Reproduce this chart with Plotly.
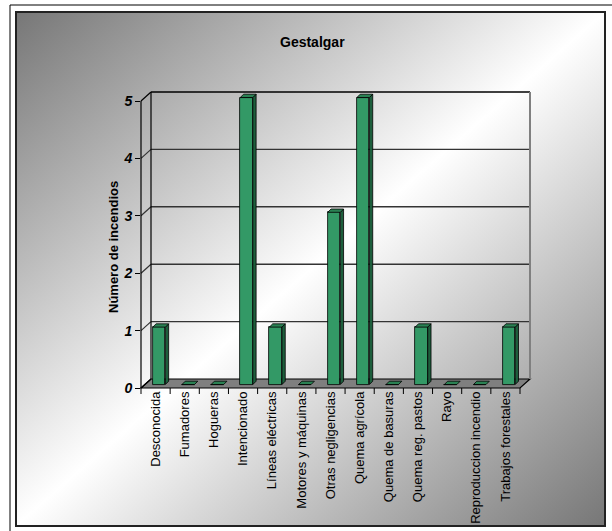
import base64
import plotly.graph_objects as go

# ---------------- data ----------------
categories = ["Desconocida", "Fumadores", "Hogueras", "Intencionado", "Líneas eléctricas",
              "Motores y máquinas", "Otras negligencias", "Quema agrícola", "Quema de basuras",
              "Quema reg. pastos", "Rayo", "Reproduccion incendio", "Trabajos forestales"]
incendios = [1, 0, 0, 5, 1, 0, 3, 5, 0, 1, 0, 0, 1]
y_ticks = [0, 1, 2, 3, 4, 5]
title_text = "Gestalgar"
y_title = "Número de incendios"

# ---------------- geometry (pixels) ----------------
WIDTH, HEIGHT = 612, 531
L, R, T, B = 141, 530, 92, 388          # subplot box (includes back wall)
PXX = 379 / 13                          # px per category
PXY = 57.4                              # px per unit
DX, DY = 10, 9                          # wall depth offset
BSX, BSY = 3.5, 3.5                     # bar front-face shift
BDX, BDY = 3.3, 3.3                     # bar depth
W, H = R - L, B - T

n = len(categories)
xr = [-0.5, -0.5 + W / PXX]
yr = [0, H / PXY]


def px(p):
    return (p - L) / W


def py(p):
    return (B - p) / H


def fx(u):
    return L + (u + 0.5) * PXX


def fy(v):
    return B - v * PXY


# ---------------- background gradient ----------------
svg = ("<svg xmlns='http://www.w3.org/2000/svg' width='100' height='100' viewBox='0 0 100 100' "
       "preserveAspectRatio='none'><defs><linearGradient id='g' x1='0' y1='0' x2='1' y2='1'>"
       "<stop offset='0' stop-color='#777777'/><stop offset='0.5' stop-color='#ffffff'/>"
       "<stop offset='1' stop-color='#777777'/></linearGradient></defs>"
       "<rect width='100' height='100' fill='url(#g)'/></svg>")
svg_uri = "data:image/svg+xml;base64," + base64.b64encode(svg.encode()).decode()

fig = go.Figure()

# ---------------- bars (front faces), shifted into the depth of the floor ----------------
bw = 0.43
sxu, syu = BSX / PXX, BSY / PXY
fig.add_trace(go.Bar(x=list(range(n)), y=incendios, width=bw, offset=-bw / 2 + sxu, base=syu,
                     marker=dict(color="#339966", line=dict(color="#000000", width=0.8)),
                     showlegend=False, hoverinfo="skip"))

# side and top faces computed from values
dxu, dyu = BDX / PXX, BDY / PXY
side_x, side_y, top_x, top_y = [], [], [], []
for i, v in enumerate(incendios):
    xl, xrgt = i - bw / 2 + sxu, i + bw / 2 + sxu
    y0, y1 = syu, v + syu
    if v > 0:
        side_x += [xrgt, xrgt, xrgt + dxu, xrgt + dxu, xrgt, None]
        side_y += [y0, y1, y1 + dyu, y0 + dyu, y0, None]
    top_x += [xl, xrgt, xrgt + dxu, xl + dxu, xl, None]
    top_y += [y1, y1, y1 + dyu, y1 + dyu, y1, None]

fig.add_trace(go.Scatter(x=side_x, y=side_y, mode="lines", fill="toself",
                         fillcolor="#1d5e3c", line=dict(color="#000000", width=0.8),
                         showlegend=False, hoverinfo="skip"))
fig.add_trace(go.Scatter(x=top_x, y=top_y, mode="lines", fill="toself",
                         fillcolor="#2a8153", line=dict(color="#000000", width=0.8),
                         showlegend=False, hoverinfo="skip"))

# ---------------- decoration shapes ----------------
shapes = []


def line(x0, y0, x1, y1, color="#000000", width=1, layer="below"):
    shapes.append(dict(type="line", xref="paper", yref="paper", x0=px(x0), y0=py(y0),
                       x1=px(x1), y1=py(y1), line=dict(color=color, width=width), layer=layer))


# floor
x_end = fx(n - 0.5)
shapes.append(dict(type="path", xref="paper", yref="paper", layer="below",
                   path=f"M {px(L)},{py(B)} L {px(x_end)},{py(B)} L {px(x_end + DX)},{py(B - DY)} "
                        f"L {px(L + DX)},{py(B - DY)} Z",
                   fillcolor="#7f7f7f", line=dict(color="#000000", width=1.2)))
# gridlines on back and side walls
for v in y_ticks[1:]:
    col = "#000000" if v == y_ticks[-1] else "#333333"
    line(L, fy(v), L + DX, fy(v) - DY, col, 1.2)
    line(L + DX, fy(v) - DY, R, fy(v) - DY, col, 1.4)
line(L, fy(0), L + DX, fy(0) - DY, "#000000", 1.2)
# wall edges
line(L + DX, fy(y_ticks[-1]) - DY, L + DX, B - DY, "#000000", 1.2)
line(R, fy(y_ticks[-1]) - DY, R, B - DY, "#808080", 2)
line(L, fy(y_ticks[-1]), L, B, "#000000", 1.2)
# category boundary ticks on the front axis
for i in range(n + 1):
    line(fx(i - 0.5), B, fx(i - 0.5), B + 6, "#000000", 1, "above")
# frames
shapes.append(dict(type="rect", xref="paper", yref="paper", layer="above",
                   x0=px(16), y0=py(12), x1=px(605), y1=py(526),
                   line=dict(color="#222222", width=2)))
line(10, 5, 612, 5, "#000000", 1, "above")
line(10, 5, 10, 531, "#000000", 1, "above")

fig.update_layout(
    width=WIDTH, height=HEIGHT,
    margin=dict(l=L, r=WIDTH - R, t=T, b=HEIGHT - B, pad=0, autoexpand=False),
    paper_bgcolor="#ffffff", plot_bgcolor="rgba(0,0,0,0)",
    font=dict(family="Liberation Sans, Arial, sans-serif", color="#000000"),
    showlegend=False, bargap=0,
    images=[dict(source=svg_uri, xref="paper", yref="paper", x=px(17), y=py(13),
                 sizex=px(604) - px(17), sizey=py(13) - py(525), sizing="stretch",
                 xanchor="left", yanchor="top", layer="below")],
    shapes=shapes,
    xaxis=dict(range=xr, tickmode="array", tickvals=list(range(n)), ticktext=categories,
               tickangle=-90, ticks="",
               tickfont=dict(size=13, family="Liberation Sans, Arial, sans-serif"),
               automargin=False,
               showgrid=False, zeroline=False, showline=False, fixedrange=True),
    yaxis=dict(range=yr, tickmode="array", tickvals=y_ticks, ticks="outside", ticklen=5,
               tickcolor="#000000", tickwidth=1, automargin=False,
               tickfont=dict(size=14, family="Liberation Sans, Arial, sans-serif",
                             weight="bold", style="italic"),
               showgrid=False, zeroline=False, showline=False, fixedrange=True),
    annotations=[
        dict(text=f"<b>{title_text}</b>", xref="paper", yref="paper", x=px(312), y=py(42),
             showarrow=False, font=dict(size=14), xanchor="center", yanchor="middle"),
        dict(text=f"<b>{y_title}</b>", xref="paper", yref="paper", x=px(113), y=py(247),
             showarrow=False, font=dict(size=13), textangle=-90,
             xanchor="center", yanchor="middle"),
    ],
)

fig.write_html("out.html", config={"displayModeBar": False},
               post_script="document.body.style.margin='0px';")
